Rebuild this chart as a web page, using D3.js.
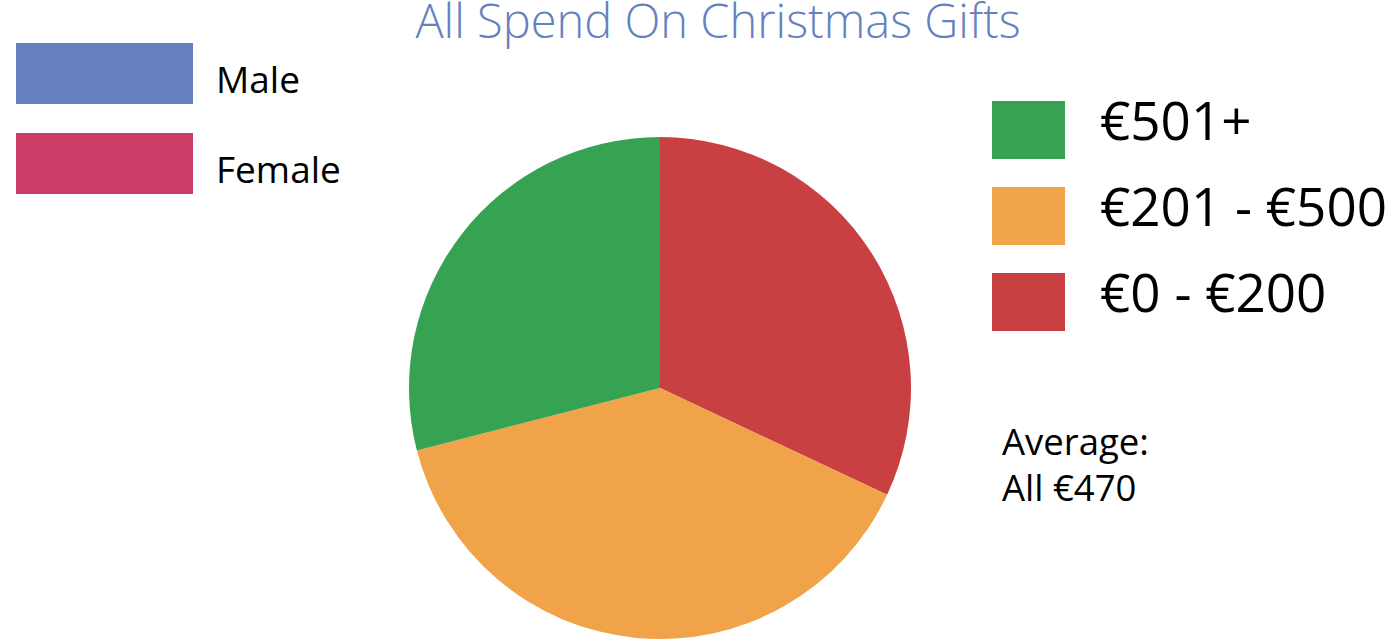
<!DOCTYPE html>
<html>
<head>
<meta charset="utf-8">
<script src="https://cdn.jsdelivr.net/npm/d3@7"></script>
<style>
  body { margin: 0; background: #fff; }
  svg { display: block; font-family: "Open Sans", sans-serif; }
</style>
</head>
<body>
<div id="vis"></div>
<script>

const FRAME_WIDTH = 1397;
const FRAME_HEIGHT = 642;

// spend bands, clockwise from 12 o'clock
const categories = ["€0 - €200", "€201 - €500", "€501+"];
const shares = [32, 39, 29];
const colors = ["#c94043", "#f0a349", "#36a352"];

const genders = ["Male", "Female"];
const genderColors = ["#6480bd", "#cb3d66"];

const title = "All Spend On Christmas Gifts";
const averageLines = ["Average:", "All €470"];

const FRAME = d3.select("#vis")
                .append("svg")
                  .attr("width", FRAME_WIDTH)
                  .attr("height", FRAME_HEIGHT);

// title
FRAME.append("text")
      .attr("x", 718)
      .attr("y", 38)
      .attr("text-anchor", "middle")
      .attr("font-size", "47px")
      .attr("font-weight", 300)
      .attr("fill", "#6582be")
      .text(title);

// pie
const CX = 660, CY = 388, R = 251;

const pie = d3.pie().sort(null).value((d) => d.value);
const arc = d3.arc().innerRadius(0).outerRadius(R);

const slices = pie(categories.map((c, i) => ({name: c, value: shares[i], color: colors[i]})));

FRAME.append("g")
      .attr("transform", "translate(" + CX + "," + CY + ")")
    .selectAll("path")
    .data(slices)
    .enter()
    .append("path")
      .attr("d", arc)
      .attr("fill", (d) => d.data.color);

// gender legend (top left)
const gLeg = FRAME.append("g");
gLeg.selectAll("rect")
    .data(genders)
    .enter()
    .append("rect")
      .attr("x", 16)
      .attr("y", (d, i) => 43 + i * 90)
      .attr("width", 177)
      .attr("height", 61)
      .attr("fill", (d, i) => genderColors[i]);
gLeg.selectAll("text")
    .data(genders)
    .enter()
    .append("text")
      .attr("x", 216)
      .attr("y", (d, i) => 93 + i * 90)
      .attr("font-size", "37px")
      .attr("fill", "#000")
      .text((d) => d);

// spend legend (right), reversed order
const legendItems = categories.map((c, i) => ({name: c, color: colors[i]})).reverse();
const sLeg = FRAME.append("g");
sLeg.selectAll("rect")
    .data(legendItems)
    .enter()
    .append("rect")
      .attr("x", 992)
      .attr("y", (d, i) => 101 + i * 86)
      .attr("width", 73)
      .attr("height", 58)
      .attr("fill", (d) => d.color);
sLeg.selectAll("text")
    .data(legendItems)
    .enter()
    .append("text")
      .attr("x", 1100)
      .attr("y", (d, i) => 140 + i * 86)
      .attr("font-size", "53px")
      .attr("fill", "#000")
      .text((d) => d.name);

// average note
FRAME.append("g")
    .selectAll("text")
    .data(averageLines)
    .enter()
    .append("text")
      .attr("x", 1002)
      .attr("y", (d, i) => 455 + i * 46)
      .attr("font-size", "36.5px")
      .attr("fill", "#000")
      .text((d) => d);

</script>
</body>
</html>
